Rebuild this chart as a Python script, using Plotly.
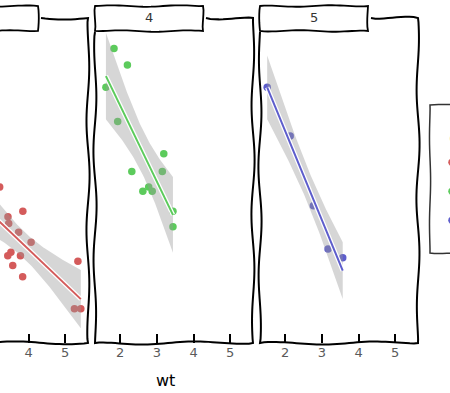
import numpy as np
import plotly.graph_objects as go

W, H = 450, 393

# ---- data (mtcars: wt vs mpg, faceted by gear) ----
gears = ["3", "4", "5"]
wt_3 = [3.215, 3.440, 3.460, 3.570, 4.070, 3.730, 3.780, 5.250, 5.424, 5.345, 2.465, 3.520, 3.435, 3.840, 3.845]
mpg_3 = [21.4, 18.7, 18.1, 14.3, 16.4, 17.3, 15.2, 10.4, 10.4, 14.7, 21.5, 15.5, 15.2, 13.3, 19.2]
wt_4 = [2.620, 2.875, 2.320, 3.190, 3.150, 3.440, 3.440, 2.200, 1.615, 1.835, 1.935, 2.780]
mpg_4 = [21.0, 21.0, 22.8, 24.4, 22.8, 19.2, 17.8, 32.4, 30.4, 33.9, 27.3, 21.4]
wt_5 = [2.140, 1.513, 3.170, 2.770, 3.570]
mpg_5 = [26.0, 30.4, 15.8, 19.7, 15.0]
x_ticks = [2, 3, 4, 5]
legend_title = "gear"
x_title = "wt"

data = {"3": (wt_3, mpg_3), "4": (wt_4, mpg_4), "5": (wt_5, mpg_5)}
colors = {"3": "#D45B5B", "4": "#5CCB5C", "5": "#5D5DCC"}
t_975 = {13: 2.160369, 10: 2.228139, 3: 3.182446}


def lm_band(x, y, n=80):
    x = np.asarray(x, float)
    y = np.asarray(y, float)
    nobs = len(x)
    b, a = np.polyfit(x, y, 1)
    xs = np.linspace(x.min(), x.max(), n)
    fit = a + b * xs
    res = y - (a + b * x)
    s = np.sqrt((res ** 2).sum() / (nobs - 2))
    sxx = ((x - x.mean()) ** 2).sum()
    se = s * np.sqrt(1.0 / nobs + (xs - x.mean()) ** 2 / sxx)
    t = t_975[nobs - 2]
    return xs, fit, fit - t * se, fit + t * se


bands = {g: lm_band(*data[g]) for g in gears}

# scales (fixed across facets, 5% expansion like ggplot)
all_x = np.concatenate([np.asarray(data[g][0]) for g in gears])
xlo, xhi = all_x.min(), all_x.max()
xr = xhi - xlo
xlo, xhi = xlo - 0.05 * xr, xhi + 0.05 * xr
all_y = np.concatenate([np.asarray(data[g][1]) for g in gears]
                       + [bands[g][2] for g in gears] + [bands[g][3] for g in gears])
ylo, yhi = all_y.min(), all_y.max()
yr = yhi - ylo
ylo, yhi = ylo - 0.05 * yr, yhi + 0.05 * yr

# ---- layout geometry (pixels) ----
PW = 158
lefts = [-70, 95, 260]
TOP, BOT = 18, 343
ppu = PW / (xhi - xlo)


def px(x):
    return x / W


def py(y):
    return 1 - y / H


fig = go.Figure()

for i, g in enumerate(gears):
    xa = "x" if i == 0 else f"x{i + 1}"
    ya = "y" if i == 0 else f"y{i + 1}"
    wx, my = data[g]
    xs, fit, lo, hi = bands[g]
    c = colors[g]
    fig.add_trace(go.Scatter(x=wx, y=my, mode="markers", xaxis=xa, yaxis=ya,
                             marker=dict(size=7.5, color=c), name=g,
                             legendgroup=g, showlegend=True))
    fig.add_trace(go.Scatter(x=np.concatenate([xs, xs[::-1]]),
                             y=np.concatenate([hi, lo[::-1]]),
                             mode="lines", fill="toself", xaxis=xa, yaxis=ya,
                             fillcolor="rgba(153,153,153,0.4)",
                             line=dict(width=0), showlegend=False, hoverinfo="skip"))
    fig.add_trace(go.Scatter(x=xs, y=fit, mode="lines", xaxis=xa, yaxis=ya,
                             line=dict(color="white", width=4.5),
                             showlegend=False, hoverinfo="skip"))
    fig.add_trace(go.Scatter(x=xs, y=fit, mode="lines", xaxis=xa, yaxis=ya,
                             line=dict(color=c, width=2),
                             showlegend=False, hoverinfo="skip"))

axis_common = dict(showgrid=False, zeroline=False, showline=False)
for i in range(3):
    L = lefts[i]
    R = L + PW
    if L < 0:
        dom = [0, px(R)]
        rng = [xlo + (-L) / ppu, xhi]
    else:
        dom = [px(L), px(R)]
        rng = [xlo, xhi]
    key = "xaxis" if i == 0 else f"xaxis{i + 1}"
    ykey = "yaxis" if i == 0 else f"yaxis{i + 1}"
    fig.layout[key] = dict(domain=dom, range=rng, tickvals=x_ticks,
                           ticks="inside", ticklen=9, tickwidth=1.5, tickcolor="black",
                           tickfont=dict(family="DejaVu Sans", size=13, color="#5a5a5a"),
                           anchor="y" if i == 0 else f"y{i + 1}", **axis_common)
    fig.layout[ykey] = dict(domain=[py(BOT), py(TOP)], range=[ylo, yhi],
                            showticklabels=False, ticks="",
                            anchor="x" if i == 0 else f"x{i + 1}", **axis_common)


# ---- hand-drawn (xkcd-like) borders ----
def wobble_pts(p0, p1, amp, wl, ph):
    p0 = np.array(p0, float)
    p1 = np.array(p1, float)
    d = p1 - p0
    ln = np.hypot(*d)
    n = max(int(ln / 4), 2)
    t = np.linspace(0, 1, n + 1)
    nrm = np.array([-d[1], d[0]]) / ln
    off = amp * (np.sin(2 * np.pi * t * ln / wl + ph) * np.sin(np.pi * t) ** 0.3)
    pts = p0[None, :] + t[:, None] * d[None, :] + off[:, None] * nrm[None, :]
    return pts


def path_from(corners, amp, wl, seed, closed=False):
    pts = []
    for k in range(len(corners) - 1):
        seg = wobble_pts(corners[k], corners[k + 1], amp, wl, seed + 1.7 * k)
        if k > 0:
            seg = seg[1:]
        pts.append(seg)
    pts = np.vstack(pts)
    s = "M " + " L ".join(f"{px(x):.5f},{py(y):.5f}" for x, y in pts)
    if closed:
        s += " Z"
    return s


shapes = []
annotations = []
for i, g in enumerate(gears):
    L = lefts[i]
    R = L + PW
    SR = L + 108
    frame = [(SR + 3, TOP), (R, TOP), (R, BOT), (L, BOT), (L, 32)]
    shapes.append(dict(type="path", xref="paper", yref="paper",
                       path=path_from(frame, 1.6, 110, 0.9 * i + 0.3),
                       line=dict(color="black", width=2), layer="above"))
    strip = [(L, 6), (SR, 6), (SR, 31), (L, 31), (L, 6)]
    shapes.append(dict(type="path", xref="paper", yref="paper",
                       path=path_from(strip, 0.8, 70, 1.3 * i + 2.0, closed=True),
                       line=dict(color="black", width=1.8), fillcolor="white",
                       layer="above"))
    annotations.append(dict(x=px(L + 54), y=py(18), xref="paper", yref="paper",
                            xanchor="center", yanchor="middle",
                            text=g, showarrow=False,
                            font=dict(family="DejaVu Sans", size=13, color="#333333")))

legend_box = [(430, 105), (485, 105), (485, 253), (430, 253), (430, 105)]
shapes.append(dict(type="path", xref="paper", yref="paper",
                   path=path_from(legend_box, 0.6, 90, 4.0, closed=True),
                   line=dict(color="#333333", width=1.5), layer="below"))

annotations.append(dict(x=px(165), y=py(380), xref="paper", yref="paper",
                        xanchor="center", yanchor="middle",
                        text=x_title, showarrow=False,
                        font=dict(family="DejaVu Sans", size=16, color="black")))

fig.update_layout(
    width=W, height=H,
    margin=dict(l=0, r=0, t=0, b=0, autoexpand=False),
    paper_bgcolor="white", plot_bgcolor="white",
    shapes=shapes, annotations=annotations,
    showlegend=True,
    legend=dict(x=px(432), y=py(122), xanchor="left", yanchor="top",
                bgcolor="rgba(0,0,0,0)", borderwidth=0,
                font=dict(family="DejaVu Sans", size=20, color="#333333"),
                title=dict(text="\u00a0\u00a0\u00a0" + legend_title,
                           font=dict(family="DejaVu Sans", size=16, color="#333333")),
                tracegroupgap=0, itemclick=False),
)

fig.write_html("out.html",
               config={"displayModeBar": False},
               post_script="document.body.style.margin='0';document.body.style.padding='0';")
